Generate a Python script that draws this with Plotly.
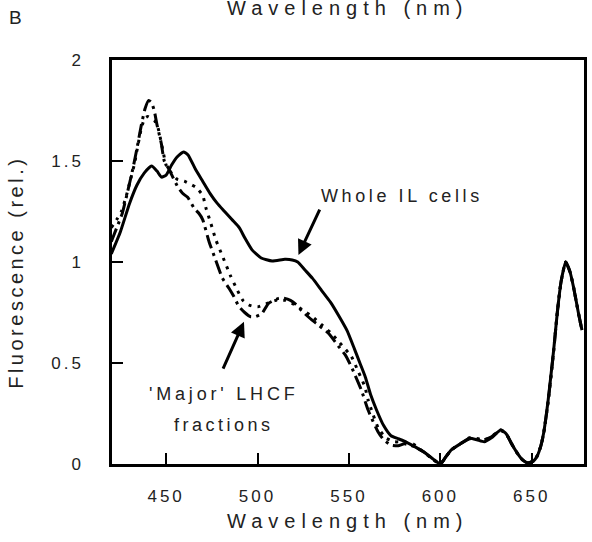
import plotly.graph_objects as go

# ---- data ----
wl_whole = [420, 425, 430, 434, 438, 442, 445, 447.5, 450, 453, 456, 459.5, 462, 466, 470, 474, 478, 482,
            486, 490, 493, 497, 502, 508, 515, 519, 522, 526, 530, 535, 540, 545, 549, 553, 556, 559,
            562, 565, 569, 573, 577, 581, 586, 592, 596, 600, 603, 606, 611, 616, 620, 624, 628, 633,
            636, 639, 642, 645, 648, 651, 653, 655, 656.5, 659, 662, 664, 666, 668.6, 671, 673, 675.5, 677.5]
fl_whole = [1.04, 1.15, 1.29, 1.38, 1.44, 1.475, 1.45, 1.42, 1.43, 1.48, 1.52, 1.545, 1.53, 1.46, 1.40, 1.34, 1.29, 1.25,
            1.21, 1.17, 1.12, 1.06, 1.02, 1.005, 1.013, 1.01, 1.0, 0.96, 0.92, 0.86, 0.80, 0.725, 0.66, 0.57, 0.50, 0.43,
            0.34, 0.27, 0.19, 0.14, 0.125, 0.11, 0.086, 0.053, 0.025, 0.0, 0.035, 0.07, 0.10, 0.127, 0.12, 0.11, 0.13, 0.168,
            0.15, 0.10, 0.055, 0.02, 0.005, 0.015, 0.04, 0.09, 0.152, 0.317, 0.564, 0.75, 0.9, 1.0, 0.95, 0.87, 0.75, 0.663]

wl_major = [420, 423, 426, 429, 432, 434, 436.5, 438.5, 440.5, 442, 443.5, 445, 447.3, 449, 451.8, 456.3, 459,
            461.8, 465.4, 468, 470, 473.5, 476.3, 480.8, 484.4, 487, 489.8, 493, 496, 498.9, 502.5, 506, 511.6,
            515, 518, 521, 524, 529.7, 533.3, 538.8, 544.2, 548, 551.4, 556.8, 560.5, 565.9, 569, 573, 577,
            580.4, 585.9, 591, 595, 600, 603, 606, 611, 616, 620, 624, 628, 633, 636, 639, 642, 645, 648,
            651, 653, 655, 656.5, 659, 662, 664, 666, 668.6, 671, 673, 675.5, 677.5]
fl_major = [1.10, 1.17, 1.24, 1.35, 1.47, 1.56, 1.68, 1.76, 1.80, 1.79, 1.75, 1.68, 1.59, 1.50, 1.455, 1.373, 1.34,
            1.32, 1.265, 1.24, 1.21, 1.10, 1.03, 0.92, 0.87, 0.83, 0.78, 0.75, 0.73, 0.73, 0.746, 0.795, 0.82,
            0.82, 0.81, 0.79, 0.76, 0.713, 0.688, 0.647, 0.584, 0.54, 0.48, 0.366, 0.267, 0.16, 0.12, 0.094, 0.09,
            0.10, 0.085, 0.06, 0.03, 0.0, 0.035, 0.07, 0.10, 0.125, 0.125, 0.12, 0.135, 0.165, 0.15, 0.10, 0.055, 0.02, 0.005,
            0.015, 0.04, 0.09, 0.15, 0.31, 0.56, 0.75, 0.9, 1.0, 0.95, 0.87, 0.75, 0.66]

wl_minor = [420, 423, 425.5, 428, 430, 432.8, 434, 436.4, 438.2, 440, 442, 443.6, 445.4, 448.2, 450, 453, 456,
            460, 466.3, 470, 471.7, 474.5, 477.2, 480.8, 485.3, 489, 492, 495.3, 498, 500.7, 505.2, 510, 515,
            520, 525, 530, 535, 540, 545, 551.4, 555, 558.7, 560.5, 563, 566, 570, 575, 580, 585, 590, 595,
            600, 603, 606, 611, 616, 620, 624, 628, 633, 636, 639, 642, 645, 648, 651, 653, 655, 656.5, 659,
            662, 664, 666, 668.6, 671, 673, 675.5, 677.5]
fl_minor = [1.17, 1.21, 1.25, 1.32, 1.39, 1.49, 1.55, 1.66, 1.71, 1.72, 1.71, 1.70, 1.67, 1.554, 1.48, 1.44, 1.41,
            1.40, 1.37, 1.33, 1.27, 1.19, 1.11, 1.03, 0.93, 0.86, 0.81, 0.787, 0.78, 0.779, 0.795, 0.81, 0.81,
            0.79, 0.76, 0.73, 0.69, 0.65, 0.60, 0.531, 0.46, 0.383, 0.317, 0.25, 0.18, 0.13, 0.11, 0.11, 0.10, 0.065, 0.03,
            0.0, 0.035, 0.07, 0.10, 0.13, 0.125, 0.12, 0.135, 0.17, 0.15, 0.10, 0.055, 0.02, 0.005, 0.015, 0.04, 0.09, 0.15, 0.31,
            0.56, 0.75, 0.9, 1.0, 0.95, 0.87, 0.75, 0.66]

x_ticks = [450, 500, 550, 600, 650]
x_ticktext = ["450", "500", "550", "600", "650"]
y_ticks = [0, 0.5, 1, 1.5, 2]
y_ticktext = ["0", "0.5", "1", "1.5", "2"]

FONT = "Liberation Sans, Arial, sans-serif"


def spaced(s, ls):
    return '<span style="letter-spacing:%spx">%s</span>' % (ls, s)


fig = go.Figure()
fig.add_trace(go.Scatter(x=wl_whole, y=fl_whole, mode="lines", line=dict(color="black", width=3, shape="spline", smoothing=0.5),
                         name="Whole IL cells"))
fig.add_trace(go.Scatter(x=wl_major, y=fl_major, mode="lines",
                         line=dict(color="black", width=3, dash="14px,5px,3px,5px", shape="spline", smoothing=0.5),
                         name="'Major' LHCF fractions (a)"))
fig.add_trace(go.Scatter(x=wl_minor, y=fl_minor, mode="lines",
                         line=dict(color="black", width=3, dash="3px,6px", shape="spline", smoothing=0.5),
                         name="'Major' LHCF fractions (b)"))

axis_common = dict(showline=True, mirror=True, linewidth=2.5, linecolor="black", ticks="inside",
                   ticklen=11, tickwidth=2, tickcolor="black", showgrid=False, zeroline=False,
                   tickfont=dict(family=FONT, size=17, color="#222"))

fig.update_xaxes(range=[420.4, 678.6], tickvals=x_ticks, ticktext=[spaced(t, 3) for t in x_ticktext],
                 ticklabelstandoff=15, **axis_common)
fig.update_yaxes(range=[0, 2], tickvals=y_ticks, ticktext=[spaced(t, 3) for t in y_ticktext],
                 ticklabelstandoff=22, **axis_common)

ann = []
# axis titles
ann.append(dict(text=spaced("Wavelength (nm)", 6), x=0.5, y=-0.142, xref="paper", yref="paper",
                showarrow=False, font=dict(family=FONT, size=20, color="#222"), xanchor="center", yanchor="middle"))
ann.append(dict(text=spaced("Wavelength (nm)", 6), x=0.5, y=1.129, xref="paper", yref="paper",
                showarrow=False, font=dict(family=FONT, size=20, color="#222"), xanchor="center", yanchor="middle"))
ann.append(dict(text=spaced("Fluorescence (rel.)", 3.5), x=-0.204, y=0.475, xref="paper", yref="paper",
                showarrow=False, textangle=-90, font=dict(family=FONT, size=20, color="#222"),
                xanchor="center", yanchor="middle"))
ann.append(dict(text="B", x=-0.204, y=1.106, xref="paper", yref="paper", showarrow=False,
                font=dict(family=FONT, size=19, color="#222"), xanchor="center", yanchor="middle"))
# labels
ann.append(dict(text=spaced("Whole IL cells", 3.6), x=0.438, y=0.663, xref="paper", yref="paper", showarrow=False,
                font=dict(family=FONT, size=18, color="#222"), xanchor="left", yanchor="middle"))
ann.append(dict(text=spaced("'Major' LHCF", 3.8), x=0.238, y=0.173, xref="paper", yref="paper", showarrow=False,
                font=dict(family=FONT, size=18, color="#222"), xanchor="center", yanchor="middle"))
ann.append(dict(text=spaced("fractions", 3.5), x=0.238, y=0.0965, xref="paper", yref="paper", showarrow=False,
                font=dict(family=FONT, size=18, color="#222"), xanchor="center", yanchor="middle"))
# arrows
ann.append(dict(text="", x=522.4, y=1.035, ax=534.4, ay=1.267, xref="x", yref="y", axref="x", ayref="y",
                showarrow=True, arrowhead=2, arrowsize=1, arrowwidth=3, arrowcolor="black"))
ann.append(dict(text="", x=492.6, y=0.704, ax=480.8, ay=0.465, xref="x", yref="y", axref="x", ayref="y",
                showarrow=True, arrowhead=2, arrowsize=1, arrowwidth=3, arrowcolor="black"))

fig.update_layout(width=592, height=542, margin=dict(l=112, r=5, t=60, b=78),
                  paper_bgcolor="white", plot_bgcolor="white", showlegend=False, annotations=ann)

fig.write_html("out.html")
